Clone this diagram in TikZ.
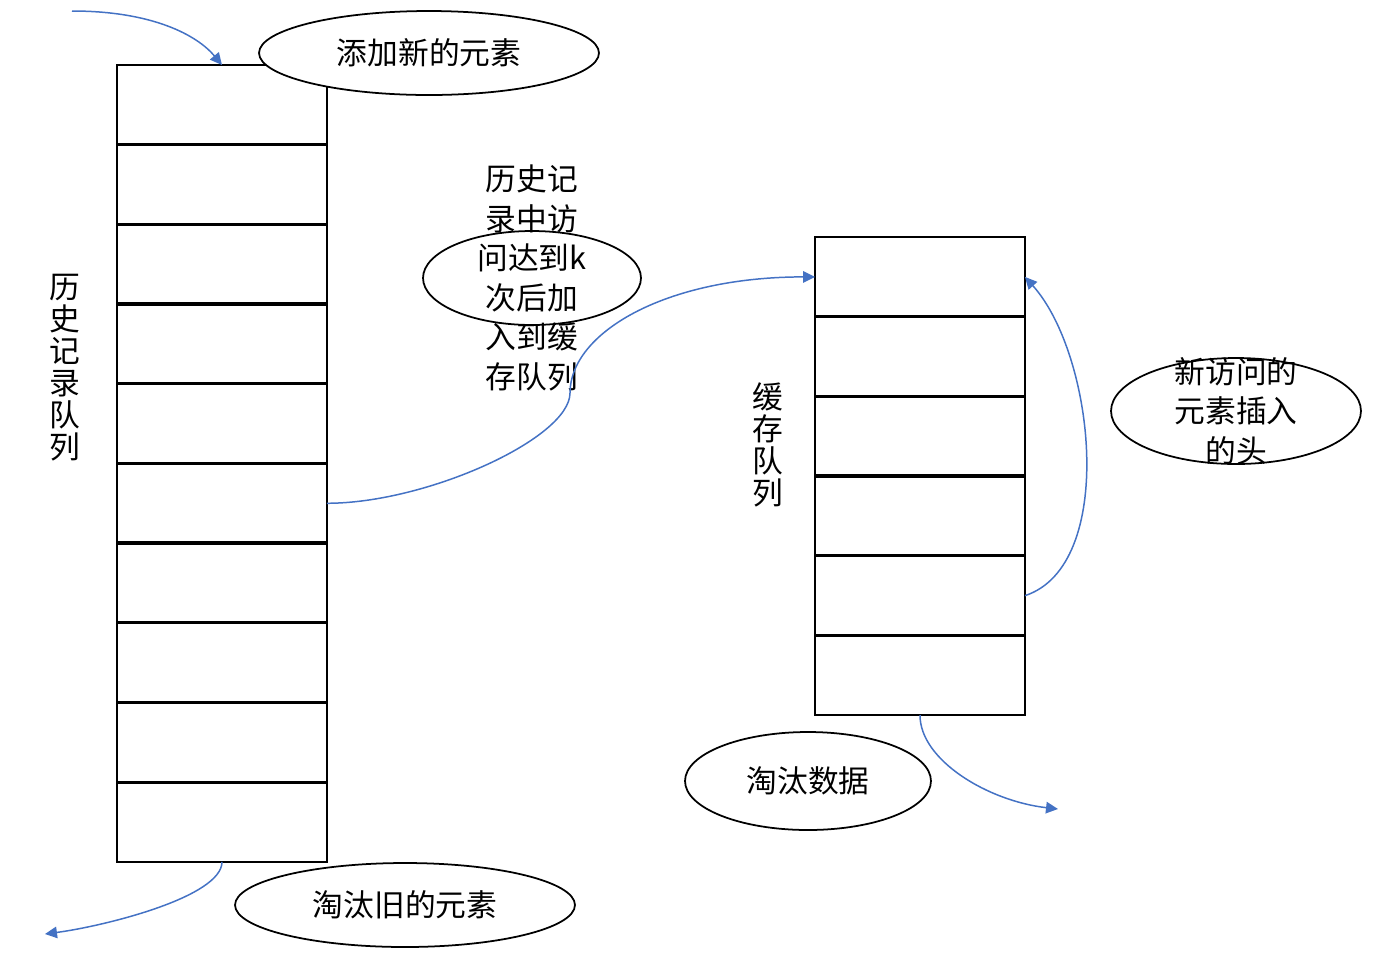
\documentclass[tikz,border=0pt]{standalone}
\usepackage{fontspec}
\setmainfont{Noto Sans CJK SC}
\usepackage{tikz}
\usetikzlibrary{
	shapes.geometric,
	arrows.meta,
	positioning
}
\definecolor{qblue}{RGB}{68,114,196}

\begin{document}
\begin{tikzpicture}[
				x=0.02cm, y=-0.02cm,
				cell/.style={
					rectangle, inner sep=0pt, outer sep=0pt,
					minimum width=4.2cm, minimum height=1.594cm
				},
				frame/.style={draw, line width=0.9pt},
				divider/.style={line width=1.9pt},
				oval/.style={
					ellipse, draw, line width=1pt, fill=white, inner sep=0pt,
					font=\fontsize{17.5}{22}\selectfont
				},
				txt/.style={
					align=center, inner sep=0pt,
					font=\fontsize{17.5}{22.5}\selectfont
				},
				vtxt/.style={
					align=center, inner sep=0pt,
					font=\fontsize{17.5}{18.2}\selectfont
				},
				arrow/.style={-{Triangle[length=2.4mm,width=2.3mm]}, line width=0.85pt, qblue},
				]
				
				\useasboundingbox (0,0) rectangle (1396,958);
				
				%history queue
				\node[cell] (h1) at (222,104.85) {};
				\foreach \i [count=\j from 2] in {1,...,9}
					\node[cell, below=0pt of h\i] (h\j) {};
				\draw[frame] (h1.north west) rectangle (h10.south east);
				\foreach \i in {2,...,10}
					\draw[divider] (h\i.north west) -- (h\i.north east);
				\node[vtxt] (histlabel) at (65,368) {历\\史\\记\\录\\队\\列};
				
				%cache queue
				\node[cell] (c1) at (920,276.9) {};
				\foreach \i [count=\j from 2] in {1,...,5}
					\node[cell, below=0pt of c\i] (c\j) {};
				\draw[frame] (c1.north west) rectangle (c6.south east);
				\foreach \i in {2,...,6}
					\draw[divider] (c\i.north west) -- (c\i.north east);
				\node[vtxt] (cachelabel) at (768,445) {缓\\存\\队\\列};
				
				%labels
				\node[oval, minimum width=6.8cm, minimum height=1.68cm] (addnew) at (429,53) {添加新的元素};
				\node[oval, minimum width=6.8cm, minimum height=1.68cm] (dropold) at (405,905) {淘汰旧的元素};
				\node[oval, minimum width=4.92cm, minimum height=1.96cm] (dropdata) at (808,781) {淘汰数据};
				
				\node[oval, minimum width=4.36cm, minimum height=1.88cm] (kvisit) at (532,278) {};
				\node[txt] (kvisittext) at (kvisit) {历史记\\录中访\\问达到k\\次后加\\入到缓\\存队列};
				
				\node[oval, minimum width=5cm, minimum height=2.12cm] (tohead) at (1236,411) {};
				\node[txt] (toheadtext) at (tohead) {新访问的\\元素插入\\的头};
				
				%arrows
				\coordinate (newin) at (72,11);
				\draw[arrow] (newin) .. controls +(80,0) and +(-25,-30) .. (h1.north);
				
				\coordinate (oldout) at (45,934);
				\draw[arrow] (h10.south) .. controls +(0,35) and +(60,-8) .. (oldout);
				
				\coordinate (kjoin) at (570,393);
				\draw[arrow] (h6.east) .. controls +(100,0) and +(0,45) .. (kjoin)
					.. controls +(0,-60) and +(-150,0) .. (c1.west);
				
				\draw[arrow] (c5.east) .. controls +(92,-30) and +(70,78) .. (c1.east);
				
				\coordinate (dataout) at (1058,809);
				\draw[arrow] (c6.south) .. controls +(0,45) and +(-70,-8) .. (dataout);
\end{tikzpicture}
\end{document}
